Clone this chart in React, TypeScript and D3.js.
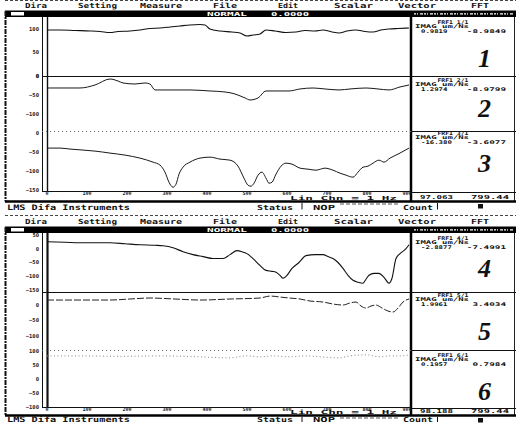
import React from "react";
import * as d3 from "d3";

// ---------- data ----------
const menuLabels = ["Dira", "Setting", "Measure", "File", "Edit", "Scalar", "Vector", "FFT"];
const freqTicks = [0, 100, 200, 300, 400, 500, 600, 700, 800, 900];
const freqUnitLabel = "Lin Chn  =  1 Hz";

const series1: [number, number][] = [
  [0, 97.5], [32.5, 97.5], [70, 96.4], [107.5, 95.4], [132.5, 94.3], [157.5, 92.2], [177.5, 94.3],
  [207.5, 95.4], [232.5, 97.5], [257.5, 100.7], [282.5, 101.7], [307.5, 103.8], [332.5, 106], [357.5, 108.1],
  [382.5, 109.1], [395, 108.1], [407.5, 99.6], [432.5, 95.4], [462.5, 93.2], [482.5, 91.1], [500, 84.8],
  [515, 86.9], [532.5, 89], [547.5, 97.5], [570, 95.4], [597.5, 92.2], [622.5, 93.2], [645, 96.4], [670, 95.4],
  [690, 97.5], [712.5, 93.2], [730, 91.1], [750, 95.4], [772.5, 97.5], [795, 94.3], [815, 93.2], [835, 97.5],
  [855, 99.6], [877.5, 100.7], [905, 101.7],
];
const series2: [number, number][] = [
  [0, -31.6], [82.5, -31.6], [120, -23.7], [157.5, -7.9], [177.5, -13.2], [190, -18.4], [220, -21.1],
  [245, -18.4], [257.5, -21.1], [270, -36.8], [307.5, -36.8], [357.5, -36.8], [407.5, -39.5], [445, -42.1],
  [470, -47.4], [495, -57.9], [507.5, -63.2], [527.5, -57.9], [547.5, -39.5], [582.5, -39.5], [605, -39.5],
  [632.5, -34.2], [665, -31.6], [695, -34.2], [730, -36.8], [757.5, -34.2], [797.5, -31.6], [827.5, -34.2],
  [855, -36.8], [882.5, -28.9], [905, -23.7],
];
const series3: [number, number][] = [
  [0, -39.5], [32.5, -39.5], [57.5, -42.1], [90, -44.7], [120, -47.4], [157.5, -52.6], [195, -57.9],
  [232.5, -65.8], [265, -76.3], [282.5, -84.2], [295, -102.6], [305, -129], [315, -142.1], [322.5, -134.2],
  [330, -107.9], [340, -89.5], [357.5, -76.3], [382.5, -65.8], [407.5, -63.2], [432.5, -68.4], [457.5, -71.1],
  [477.5, -86.9], [492.5, -118.4], [502.5, -136.8], [510, -139.5], [517.5, -131.6], [527.5, -110.5],
  [537.5, -102.6], [547.5, -118.4], [555, -131.6], [562.5, -129], [572.5, -107.9], [585, -86.9], [597.5, -79],
  [612.5, -81.6], [632.5, -92.1], [652.5, -94.7], [672.5, -97.4], [695, -92.1], [715, -97.4], [732.5, -105.3],
  [747.5, -110.5], [765, -115.8], [777.5, -102.6], [790, -89.5], [802.5, -86.9], [815, -79], [830, -71.1],
  [842.5, -76.3], [857.5, -65.8], [882.5, -52.6], [905, -39.5],
];
const series4: [number, number][] = [
  [0, 25], [45, 23.2], [90, 21.4], [132.5, 21.4], [157.5, 21.4], [195, 17.9], [232.5, 14.3], [270, 12.5],
  [290, 10.7], [315, 3.6], [340, -10.7], [365, -21.4], [390, -28.6], [415, -35.7], [440, -35.7], [457.5, -21.4],
  [475, -7.1], [487.5, -10.7], [500, -17.9], [515, -35.7], [532.5, -60.7], [547.5, -78.6], [562.5, -82.1],
  [572.5, -85.7], [582.5, -96.4], [590, -107.1], [600, -96.4], [612.5, -71.4], [630, -50], [647.5, -25],
  [670, -21.4], [690, -21.4], [702.5, -28.6], [715, -35.7], [727.5, -50], [740, -71.4], [752.5, -96.4],
  [765, -114.3], [777.5, -121.4], [790, -125], [797.5, -110.7], [805, -96.4], [817.5, -89.3], [830, -89.3],
  [842.5, -103.6], [855, -125], [862.5, -107.1], [872.5, -35.7], [882.5, -17.9], [897.5, 0], [905, 14.3],
];
const series5: [number, number][] = [
  [0, 16.1], [57.5, 16.1], [107.5, 16.1], [157.5, 16.1], [207.5, 19.4], [257.5, 22.6], [320, 19.4],
  [382.5, 16.1], [457.5, 19.4], [532.5, 22.6], [557.5, 29], [582.5, 25.8], [605, 22.6], [632.5, 19.4],
  [657.5, 12.9], [690, 9.7], [715, 3.2], [740, 0], [757.5, 6.5], [772.5, 9.7], [785, -3.2], [797.5, -9.7],
  [810, -3.2], [822.5, 0], [837.5, -9.7], [852.5, -19.4], [865, -22.6], [877.5, -9.7], [890, 9.7], [905, 19.4],
];
const series6: [number, number][] = [
  [0, 82.1], [82.5, 82.1], [182.5, 80.4], [282.5, 82.1], [382.5, 78.6], [457.5, 75], [500, 82.1],
  [532.5, 78.6], [565, 82.1], [607.5, 78.6], [647.5, 82.1], [682.5, 78.6], [730, 75], [757.5, 82.1],
  [797.5, 85.7], [832.5, 78.6], [857.5, 82.1], [890, 82.1], [905, 85.7],
];

const yDomains: [number, number][] = [[0, 125], [-145, 0], [-152, 5.3], [-157, 57], [-145, 42], [-100, 103]];
const yTicks = [[100, 50, 0], [0, -50, -100], [0, -50, -100, -150], [50, 0, -50, -100, -150], [0, -50, -100], [100, 50, 0, -50, -100]];

const legendTitles = ["FRF1 1/1", "FRF1 2/1", "FRF1 3/1", "FRF1 4/1", "FRF1 5/1", "FRF1 6/1"];
const legendUnit = "IMAG um/Ns";
const legendLeft = ["0.9819", "1.2974", "-16.380", "-2.8877", "1.9961", "0.1957"];
const legendRight = ["-8.9849", "-8.9799", "-3.6077", "-7.4991", "3.4034", "0.7984"];
const panelNumbers = ["1", "2", "3", "4", "5", "6"];

const readoutLeft = ["97.063", "98.188"];
const readoutRight = ["799.44", "799.44"];
const titleMode = "NORMAL";
const titleValue = "0.0000";
const statusCompany = "LMS Difa Instruments";
const statusLabel = "Status";
const statusValue = "NOP";
const countLabel = "Count";

// ---------- layout ----------
const allSeries = [series1, series2, series3, series4, series5, series6];
const menuLayout: [number, number][] = [[25, 22], [78, 39], [140, 42], [213, 24], [278, 20], [334, 39], [398, 38], [471, 18]];
const screenOffsets = [0, 216];
const statusLineY = [201.5, 199.5];
const statusTextY = [209.5, 206];
const readoutY = [198.5, 197.2];
const unitLabelY = [199.6, 198.2];
const panelBands: [number, number][] = [[17, 76], [76, 131], [131, 191], [17, 76], [76, 134], [134, 191]];
const legendOffset = [5, 4, 2, 5, 3, 5];
const numberBaseline = [67, 117, 172, 61, 124, 184];
const seriesStyle = [
  { dash: "", color: "#111", w: 1.1 },
  { dash: "", color: "#1a1a1a", w: 1 },
  { dash: "", color: "#1a1a1a", w: 1 },
  { dash: "", color: "#111", w: 1.1 },
  { dash: "7,2", color: "#222", w: 1 },
  { dash: "1,2.5", color: "#888", w: 1 },
];

const MONO = "'DejaVu Sans Mono', monospace";
const SERIF = "'Liberation Serif', 'DejaVu Serif', serif";

function Screen({ s }: { s: number }) {
  const oy = screenOffsets[s];
  const x = d3.scaleLinear().domain([0, 905]).range([47, 409]);
  const panels = [0, 1, 2].map((k) => s * 3 + k);
  const sl = oy + statusLineY[s];
  const st = oy + statusTextY[s];
  return (
    <g>
      {/* top border */}
      <line x1={5} x2={516} y1={Math.max(oy - 0.5, 0.5)} y2={Math.max(oy - 0.5, 0.5)} stroke="#444" strokeDasharray="3,2" strokeWidth={1} />
      {/* menu */}
      {menuLabels.map((m, i) => (
        <text key={m} x={menuLayout[i][0]} y={oy + 7.5} fontFamily={MONO} fontWeight="bold" fontSize={7}
          textLength={menuLayout[i][1]} lengthAdjust="spacingAndGlyphs" fill="#111">{m}</text>
      ))}
      {/* title bar */}
      <rect x={5} y={oy + 10.5} width={511} height={6.5} fill="#000" />
      <rect x={11} y={oy + 12} width={13} height={3.5} fill="#fff" />
      <text x={207} y={oy + 16} fontFamily={MONO} fontWeight="bold" fontSize={5.5} fill="#fff"
        textLength={40} lengthAdjust="spacingAndGlyphs">{titleMode}</text>
      <text x={271} y={oy + 16} fontFamily={MONO} fontWeight="bold" fontSize={5.5} fill="#fff"
        textLength={38} lengthAdjust="spacingAndGlyphs">{titleValue}</text>
      <line x1={414} x2={514} y1={oy + 13.8} y2={oy + 13.8} stroke="#fff" strokeWidth={1.2} strokeDasharray="2,1,1,2,3,1" />
      {/* frame lines */}
      <line x1={5.5} x2={5.5} y1={oy + 11} y2={sl} stroke="#111" strokeWidth={2} strokeDasharray="5,1,2,1" />
      <line x1={514.5} x2={514.5} y1={oy + 17} y2={sl} stroke="#222" strokeWidth={1} />
      <line x1={42.5} x2={42.5} y1={oy + 17} y2={oy + 192} stroke="#111" strokeWidth={1} />
      <line x1={47.5} x2={47.5} y1={oy + 17} y2={oy + 192} stroke="#111" strokeWidth={s === 1 ? 2.2 : 1.4} />
      <line x1={42} x2={411} y1={oy + 191.5} y2={oy + 191.5} stroke="#111" strokeWidth={1.2} />
      <line x1={411} x2={411} y1={oy + 17} y2={sl} stroke="#000" strokeWidth={2.5} />
      {/* separators */}
      <line x1={42} x2={516} y1={oy + panelBands[s * 3 + 1][0] + 0.5} y2={oy + panelBands[s * 3 + 1][0] + 0.5} stroke="#111" strokeWidth={1} />
      <line x1={42} x2={411} y1={oy + panelBands[s * 3 + 2][0] + 0.5} y2={oy + panelBands[s * 3 + 2][0] + 0.5} stroke="#666" strokeWidth={1} strokeDasharray="1,3" />
      <line x1={411} x2={516} y1={oy + panelBands[s * 3 + 2][0] + 0.5} y2={oy + panelBands[s * 3 + 2][0] + 0.5} stroke="#111" strokeWidth={1} />
      {/* panels */}
      {panels.map((p) => {
        const [t, b] = panelBands[p];
        const y = d3.scaleLinear().domain(yDomains[p]).range([oy + b, oy + t]);
        const line = d3.line<[number, number]>().x((d) => x(d[0])).y((d) => y(d[1])).curve(d3.curveMonotoneX);
        const sty = seriesStyle[p];
        const ly = oy + t + legendOffset[p];
        return (
          <g key={p}>
            {yTicks[p].map((v) => (
              <text key={v} x={39} y={y(v)} dy="0.35em" textAnchor="end" fontFamily={MONO} fontWeight="bold"
                fontSize={5.5} fill="#222">{d3.format("d")(v)}</text>
            ))}
            <path d={line(allSeries[p]) || ""} fill="none" stroke={sty.color} strokeWidth={sty.w}
              strokeDasharray={sty.dash || undefined} />
            <text x={453} y={ly + 1.5} textAnchor="middle" fontFamily={MONO} fontWeight="bold" fontSize={5}
              fill="#111" textLength={31} lengthAdjust="spacingAndGlyphs">{legendTitles[p]}</text>
            <text x={415} y={ly + 6} fontFamily={MONO} fontWeight="bold" fontSize={5} fill="#111"
              textLength={54} lengthAdjust="spacingAndGlyphs">{legendUnit}</text>
            <text x={421} y={ly + 10.5} fontFamily={MONO} fontWeight="bold" fontSize={5} fill="#111"
              textLength={legendLeft[p].length * 4.4} lengthAdjust="spacingAndGlyphs">{legendLeft[p]}</text>
            <text x={506} y={ly + 10.5} textAnchor="end" fontFamily={MONO} fontWeight="bold" fontSize={5} fill="#111"
              textLength={legendRight[p].length * 5.6} lengthAdjust="spacingAndGlyphs">{legendRight[p]}</text>
            <text x={491} y={oy + numberBaseline[p]} textAnchor="end" fontFamily={SERIF} fontWeight="bold"
              fontStyle="italic" fontSize={26} fill="#111">{panelNumbers[p]}</text>
          </g>
        );
      })}
      {/* x axis labels */}
      {freqTicks.map((f) => (
        <text key={f} x={x(f)} y={oy + 195} textAnchor="middle" fontFamily={MONO} fontWeight="bold" fontSize={5}
          fill="#222">{f}</text>
      ))}
      <text x={290} y={oy + unitLabelY[s]} fontFamily={MONO} fontWeight="bold" fontSize={5.5} fill="#111"
        textLength={107} lengthAdjust="spacingAndGlyphs">{freqUnitLabel}</text>
      {/* readout box */}
      <line x1={411} x2={516} y1={oy + 192.5} y2={oy + 192.5} stroke="#111" strokeWidth={1} />
      <text x={420} y={oy + readoutY[s]} fontFamily={MONO} fontWeight="bold" fontSize={5.5} fill="#111"
        textLength={33} lengthAdjust="spacingAndGlyphs">{readoutLeft[s]}</text>
      <text x={471} y={oy + readoutY[s]} fontFamily={MONO} fontWeight="bold" fontSize={5.5} fill="#111"
        textLength={38} lengthAdjust="spacingAndGlyphs">{readoutRight[s]}</text>
      {/* status row */}
      <line x1={5} x2={516} y1={sl} y2={sl} stroke="#000" strokeWidth={2.5} />
      <text x={7} y={st} fontFamily={MONO} fontWeight="bold" fontSize={7.5} fill="#111"
        textLength={123} lengthAdjust="spacingAndGlyphs">{statusCompany}</text>
      <text x={257} y={st} fontFamily={MONO} fontWeight="bold" fontSize={7} fill="#111"
        textLength={36} lengthAdjust="spacingAndGlyphs">{statusLabel}</text>
      <line x1={302} x2={302} y1={sl + 1.5} y2={st} stroke="#111" strokeWidth={1} />
      <text x={313} y={st} fontFamily={MONO} fontWeight="bold" fontSize={7} fill="#111"
        textLength={22} lengthAdjust="spacingAndGlyphs">{statusValue}</text>
      <line x1={340} x2={398} y1={sl + 2.5} y2={sl + 2.5} stroke="#555" strokeWidth={1} strokeDasharray="4,2" />
      <text x={403} y={st} fontFamily={MONO} fontWeight="bold" fontSize={7} fill="#111"
        textLength={30} lengthAdjust="spacingAndGlyphs">{countLabel}</text>
      <line x1={437.5} x2={437.5} y1={sl + 1.5} y2={st} stroke="#111" strokeWidth={1} />
      <rect x={478} y={sl + 2.5} width={5} height={4.5} fill="#111" />
    </g>
  );
}

export default function App() {
  return (
    <svg width={516} height={423} viewBox="0 0 516 423"
      style={{ position: "absolute", left: 0, top: 0, background: "#fff", display: "block" }}>
      <rect x={0} y={0} width={516} height={423} fill="#fff" />
      <Screen s={0} />
      <Screen s={1} />
    </svg>
  );
}
